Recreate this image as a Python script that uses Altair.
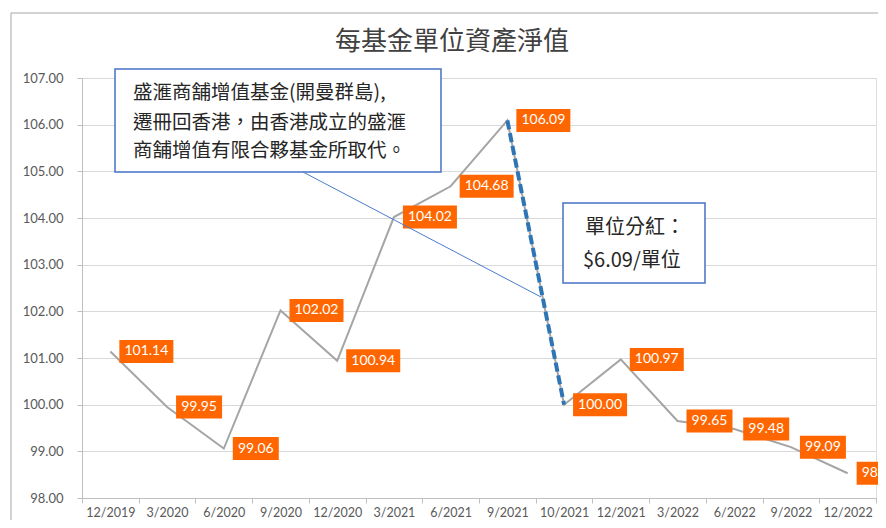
import altair as alt
import pandas as pd

# ---- data ----
categories = ["12/2019", "3/2020", "6/2020", "9/2020", "12/2020", "3/2021", "6/2021",
              "9/2021", "10/2021", "12/2021", "3/2022", "6/2022", "9/2022", "12/2022"]
nav = [101.14, 99.95, 99.06, 102.02, 100.94, 104.02, 104.68,
       106.09, 100.00, 100.97, 99.65, 99.48, 99.09, 98.53]
dividend_segment = ["9/2021", "10/2021"]
y_ticks = [98, 99, 100, 101, 102, 103, 104, 105, 106, 107]
title_text = "每基金單位資產淨值"
note_lines = ["盛滙商舗增值基金(開曼群島),", "遷冊回香港，由香港成立的盛滙", "商舗增值有限合夥基金所取代。"]
dividend_lines = ["單位分紅：", "$6.09/單位"]

# ---- layout ----
W, H = 794, 420
BAND = W / len(categories)
CJK = "Noto Sans CJK TC"
LAT = "Lato"

df = pd.DataFrame({"idx": list(range(len(categories))), "cat": categories, "nav": nav})
df["label"] = df["nav"].map(lambda v: f"{v:.2f}")
df["wide"] = df["label"].str.len() > 5

cat_js = "[" + ",".join(f"'{c}'" for c in categories) + "]"
xscale = alt.Scale(domain=[-0.5, len(categories) - 0.5], nice=False, zero=False)
yscale = alt.Scale(domain=[98, 107], nice=False, zero=False)

xaxis = alt.Axis(
    values=[i - 0.5 for i in range(len(categories) + 1)],
    labelExpr=f"{cat_js}[datum.value + 0.5] || ''",
    labelOffset=BAND / 2, labelFlush=False, labelOverlap=False, labelBound=False,
    grid=False, tickSize=5, tickColor="#BFBFBF", domainColor="#BFBFBF",
    labelColor="#595959", labelFont=LAT, labelFontSize=12.5, labelPadding=3, title=None,
)
yaxis = alt.Axis(
    values=y_ticks, format=".2f", grid=True, gridColor="#D9D9D9",
    tickSize=5, tickColor="#BFBFBF", domainColor="#BFBFBF",
    labelColor="#595959", labelFont=LAT, labelFontSize=13, labelPadding=14, title=None,
)

base = alt.Chart(df)
line = base.mark_line(color="#A5A5A5", strokeWidth=2).encode(
    x=alt.X("idx:Q", scale=xscale, axis=xaxis),
    y=alt.Y("nav:Q", scale=yscale, axis=yaxis),
    order="idx:Q",
)
dash = base.transform_filter(
    alt.FieldOneOfPredicate(field="cat", oneOf=dividend_segment)
).mark_line(color="#2E75B6", strokeWidth=4, strokeDash=[9, 4]).encode(
    x="idx:Q", y="nav:Q", order="idx:Q"
)

label_layers = []
for wide, w in [(True, 54), (False, 46)]:
    sub = base.transform_filter(alt.datum.wide == wide)
    rect = sub.mark_rect(color="#FF6600", xOffset=9, x2Offset=9 + w,
                         yOffset=-11.5, y2Offset=11.5).encode(
        x="idx:Q", x2="idx:Q", y="nav:Q", y2="nav:Q")
    txt = sub.mark_text(color="white", font=LAT, fontSize=14, align="center",
                        baseline="middle", dx=9 + w / 2).encode(
        x="idx:Q", y="nav:Q", text="label:N")
    label_layers += [rect, txt]

one = alt.Chart(pd.DataFrame({"k": [0]}))

# frame of the chart area
frame_top = one.mark_rule(color="#A6A6A6", strokeWidth=1).encode(
    x=alt.value(-71), x2=alt.value(820), y=alt.value(-65))
frame_left = one.mark_rule(color="#A6A6A6", strokeWidth=1).encode(
    x=alt.value(-71), y=alt.value(-65), y2=alt.value(460))

title = one.mark_text(text=title_text, font=CJK, fontSize=26, color="#404040",
                      align="center", baseline="middle").encode(
    x=alt.value(370), y=alt.value(-36))

# annotation 1
box1 = one.mark_rect(fill="white", stroke="#4472C4", strokeWidth=1.5).encode(
    x=alt.value(33), x2=alt.value(359), y=alt.value(-9), y2=alt.value(94))
callout = one.mark_rule(color="#4A7CCB", strokeWidth=1).encode(
    x=alt.value(221), y=alt.value(94), x2=alt.value(459), y2=alt.value(219))
note_layers = [
    one.mark_text(text=t, font=CJK, fontSize=19.5, color="#262626",
                  align="left", baseline="middle").encode(x=alt.value(51), y=alt.value(yy))
    for t, yy in zip(note_lines, [15, 45, 73])
]

# annotation 2
box2 = one.mark_rect(fill="white", stroke="#4472C4", strokeWidth=1.5).encode(
    x=alt.value(481), x2=alt.value(623), y=alt.value(125), y2=alt.value(205))
div_layers = [
    one.mark_text(text=t, font=CJK, fontSize=20, color="#262626",
                  align="left", baseline="middle").encode(x=alt.value(xx), y=alt.value(yy))
    for t, xx, yy in zip(dividend_lines, [503, 501], [150, 183])
]

chart = alt.layer(
    line, dash, *label_layers, frame_top, frame_left, title,
    box1, *note_layers, callout, box2, *div_layers,
).properties(
    width=W, height=H,
    autosize=alt.AutoSizeParams(type="none"),
    padding={"left": 74, "top": 70, "right": 2, "bottom": 22},
).configure_view(stroke=None).configure(background="white")

chart.save("out.html", embed_options={"renderer": "svg", "actions": False})
